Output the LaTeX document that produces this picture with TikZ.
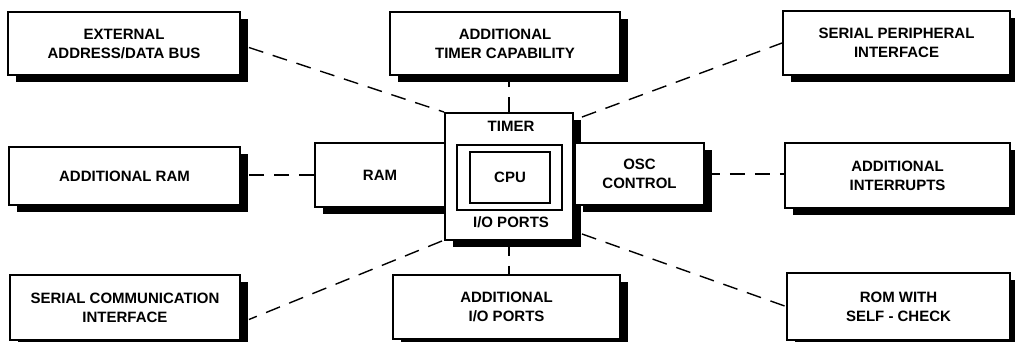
\documentclass[tikz,border=0pt]{standalone}
\usepackage{fontspec}
\setmainfont{Liberation Sans}
\usetikzlibrary{shadows,calc}
\pgfdeclarelayer{background}
\pgfsetlayers{background,main}
\tikzset{
  lbl/.style={font=\bfseries\fontsize{15}{19}\selectfont, align=center, inner sep=0pt},
  box/.style={lbl, draw=black, line width=1.9pt, fill=white,
    general shadow={fill=black, shadow xshift=8pt, shadow yshift=-7pt}},
  cpubox/.style={draw=black, line width=1.4pt, inner sep=0pt},
  conn/.style={line width=1.4pt, dash pattern=on 15pt off 10pt},
}
\begin{document}
\begin{tikzpicture}[x=1pt,y=-1pt]
\useasboundingbox (0,0) rectangle (1015,342);
\clip (0,0) rectangle (1015,342);
% outer boxes
\node[box, minimum width=232pt, minimum height=63pt] (ext) at (124,43.5) {EXTERNAL\\ADDRESS/DATA BUS};
\node[box, minimum width=230pt, minimum height=63pt] (tim) at (505,43.5) {ADDITIONAL\\TIMER CAPABILITY};
\node[box, minimum width=227pt, minimum height=64pt] (spi) at (896.5,43) {SERIAL PERIPHERAL\\INTERFACE};
\node[box, minimum width=231pt, minimum height=58pt] (aram) at (124.5,176) {ADDITIONAL RAM};
\node[box, minimum width=225pt, minimum height=65pt] (aint) at (897.5,175.5) {ADDITIONAL\\INTERRUPTS};
\node[box, minimum width=230pt, minimum height=65pt] (sci) at (125,307.5) {SERIAL COMMUNICATION\\INTERFACE};
\node[box, minimum width=227pt, minimum height=64pt] (aio) at (506.5,307) {ADDITIONAL\\I/O PORTS};
\node[box, minimum width=223pt, minimum height=67pt] (rom) at (898.5,306.5) {ROM WITH\\SELF - CHECK};
% central block
\node[box, minimum width=130pt, minimum height=64pt] (ram) at (380,175) {RAM};
\node[box, minimum width=128pt, minimum height=127pt] (ctr) at (509,176.5) {};
\node[box, minimum width=129pt, minimum height=62pt] (osc) at (639.5,174) {OSC\\CONTROL};
\node[lbl] (timer) at (511,126) {TIMER};
\node[lbl] (ioports) at (511,222) {I/O PORTS};
\node[cpubox, minimum width=105pt, minimum height=65pt] (cpuo) at (509.5,177.5) {};
\node[cpubox, lbl, minimum width=80pt, minimum height=51pt] (cpu) at (510,177.5) {CPU};
% connectors
\begin{pgfonlayer}{background}
\draw[conn] ([xshift=8pt,yshift=-4pt]ext.east) -- (ctr.north west);
\draw[conn] (ctr.north) -- (ctr.north |- tim.south);
\draw[conn] ([xshift=8pt,yshift=-5pt]ctr.north east) -- (spi.west);
\draw[conn] (ram.west) -- (ram.west -| aram.east);
\draw[conn] (osc.east) -- (osc.east -| aint.west);
\draw[conn] ([xshift=-2pt]ctr.south west) -- ([xshift=8pt,yshift=-12pt]sci.east);
\draw[conn] ([xshift=8pt,yshift=7pt]ctr.south east) -- (rom.west);
\draw[conn] (ctr.south) -- (ctr.south |- aio.north);
\end{pgfonlayer}
\end{tikzpicture}
\end{document}
